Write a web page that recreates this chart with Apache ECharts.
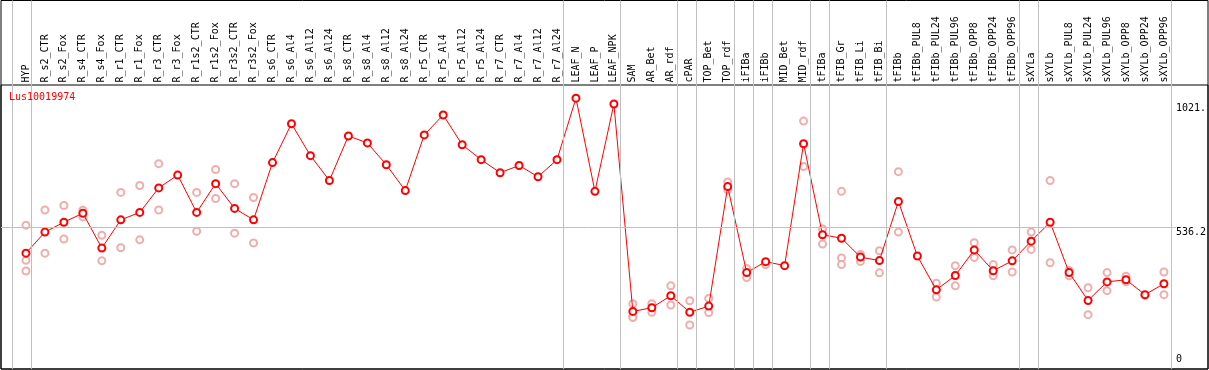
<!DOCTYPE html>
<html><head><meta charset="utf-8">
<script src="https://cdn.jsdelivr.net/npm/echarts@6/dist/echarts.min.js"></script>
<style>html,body{margin:0;padding:0;background:#fff}#c{width:1209px;height:370px}</style>
</head><body><div id="c"></div>
<script>
const geneId = 'Lus10019974';
const categories = ['HYP','R_s2_CTR','R_s2_Fox','R_s4_CTR','R_s4_Fox','R_r1_CTR','R_r1_Fox','R_r3_CTR','R_r3_Fox','R_r1s2_CTR','R_r1s2_Fox','R_r3s2_CTR','R_r3s2_Fox','R_s6_CTR','R_s6_Al4','R_s6_Al12','R_s6_Al24','R_s8_CTR','R_s8_Al4','R_s8_Al12','R_s8_Al24','R_r5_CTR','R_r5_Al4','R_r5_Al12','R_r5_Al24','R_r7_CTR','R_r7_Al4','R_r7_Al12','R_r7_Al24','LEAF_N','LEAF_P','LEAF_NPK','SAM','AR_Bet','AR_rdf','cPAR','TOP_Bet','TOP_rdf','iFIBa','iFIBb','MID_Bet','MID_rdf','tFIBa','tFIB_Gr','tFIB_Li','tFIB_Bi','tFIBb','tFIBb_PUL8','tFIBb_PUL24','tFIBb_PUL96','tFIBb_OPP8','tFIBb_OPP24','tFIBb_OPP96','sXYLa','sXYLb','sXYLb_PUL8','sXYLb_PUL24','sXYLb_PUL96','sXYLb_OPP8','sXYLb_OPP24','sXYLb_OPP96'];
const meanValues = [439,518,555,589,458,564,592,684,732,592,700,607,564,779,925,805,712,879,853,771,674,883,958,846,790,741,768,726,790,1021,671,999,220,234,279,217,240,689,366,407,392,850,508,495,424,411,633,428,301,355,451,373,410,484,555,366,261,331,339,283,324];
const replicateValues = [
  [544,412,372],[601,439],[618,492],[600,575],[506,410],[667,459],[693,489],[775,601],[],
  [667,521],[753,644],[700,514],[648,477],[],[],[],[],[],[],[],[],[],[],[],[],[],[],[],[],
  [],[],[],[249,202,197],[249,217],[316,244],[260,169],[269,216],[706,677],[381,347],[396],[],
  [935,764],[530,473],[671,421,396],[434,408],[448,365],[745,518],[],[326,274],[392,316],
  [478,423],[396,354],[451,368],[518,453],[712,403],[374,354],[309,208],[366,298],[352,331],[280],[368,283]
];
const groupEnds = [-1,0,28,31,34,35,37,38,39,41,42,45,52,53,60];
const midValue = 536.2;
const yTickValues = [0, 536.2, 1021];
const yTickLabels = ['0', '536.2', '1021.'];

// layout (pixels)
const band = 19, firstX = 26, W = 1209;
const dataLeft = 1, dataRight = 1178, frameRight = 1208;
const xMinData = (dataLeft - firstX) / band;
const xMaxData = (dataRight - firstX) / band;
const xMaxFrame = (frameRight - firstX) / band;
const FONT = 'DejaVu Sans Mono';

const repData = [];
replicateValues.forEach((arr, i) => arr.forEach(v => repData.push([i, v])));
const meanData = meanValues.map((v, i) => [i, v]);

const chart = echarts.init(document.getElementById('c'), null, {renderer: 'canvas'});
const richBase = {fontFamily: FONT, fontSize: 10, color: '#000'};
chart.setOption({
  animation: false,
  backgroundColor: '#fff',
  title: {text: geneId, left: 9, top: 92, padding: 0, textStyle: {color: '#ff0000', fontFamily: FONT, fontSize: 10, fontWeight: 'normal'}},
  grid: [
    {left: 1, top: 0.5, right: 1, bottom: 1, show: true, borderColor: '#000', borderWidth: 1, backgroundColor: 'transparent'},
    {left: 1, top: 85, right: 1, bottom: 1, show: true, borderColor: '#000', borderWidth: 1, backgroundColor: 'transparent'},
    {left: dataLeft, right: W - dataRight, top: 84.5, bottom: -2.1, show: false}
  ],
  xAxis: [
    {type: 'value', gridIndex: 2, position: 'top', min: xMinData, max: xMaxData,
     axisLine: {show: false}, axisTick: {show: false}, splitLine: {show: false},
     axisLabel: {customValues: categories.map((_, i) => i), rotate: 90, margin: 2,
       fontFamily: FONT, fontSize: 10, color: '#000',
       formatter: v => categories[Math.round(v)] || ''}},
    {type: 'value', gridIndex: 0, min: xMinData, max: xMaxFrame, show: false},
    {type: 'value', gridIndex: 1, min: 0, max: 1, show: false}
  ],
  yAxis: [
    {type: 'value', gridIndex: 2, position: 'right', min: 0, max: 2 * midValue,
     axisLine: {show: false}, axisTick: {show: false}, splitLine: {show: false},
     axisLabel: {customValues: yTickValues, margin: 0, verticalAlign: 'middle', align: 'left',
       formatter: v => {
         let k = 0, d = Infinity;
         yTickValues.forEach((t, j) => { if (Math.abs(t - v) < d) { d = Math.abs(t - v); k = j; } });
         return '{t' + k + '|' + yTickLabels[k] + '}';
       },
       rich: {
         t0: Object.assign({padding: [0, 0, 21, 0]}, richBase),
         t1: Object.assign({padding: [10, 0, 0, 0]}, richBase),
         t2: Object.assign({padding: [21, 0, 0, 0]}, richBase)
       }}},
    {type: 'value', gridIndex: 0, min: 0, max: 1, show: false},
    {type: 'value', gridIndex: 1, min: 0, max: 1, show: false}
  ],
  series: [
    {type: 'line', xAxisIndex: 1, yAxisIndex: 1, data: [], z: 1, silent: true,
     markLine: {silent: true, symbol: ['none', 'none'], label: {show: false}, animation: false,
       lineStyle: {color: '#c0c0c0', width: 1, type: 'solid'},
       data: groupEnds.map(e => ({xAxis: e + 0.25}))}},
    {type: 'line', xAxisIndex: 0, yAxisIndex: 0, data: [], z: 1, silent: true,
     markLine: {silent: true, symbol: ['none', 'none'], label: {show: false}, animation: false,
       lineStyle: {color: '#c0c0c0', width: 1, type: 'solid'},
       data: [{yAxis: midValue}]}},
    {type: 'scatter', xAxisIndex: 0, yAxisIndex: 0, data: repData, z: 2,
     symbol: 'emptyCircle', symbolSize: 7,
     itemStyle: {color: '#eb9a9a', borderColor: '#eb9a9a', borderWidth: 1}},
    {type: 'line', xAxisIndex: 0, yAxisIndex: 0, data: meanData, z: 3,
     symbol: 'emptyCircle', symbolSize: 7,
     lineStyle: {color: '#ff0000', width: 1},
     itemStyle: {color: '#ff0000', borderColor: '#ff0000', borderWidth: 1.3}}
  ]
});
</script></body></html>
